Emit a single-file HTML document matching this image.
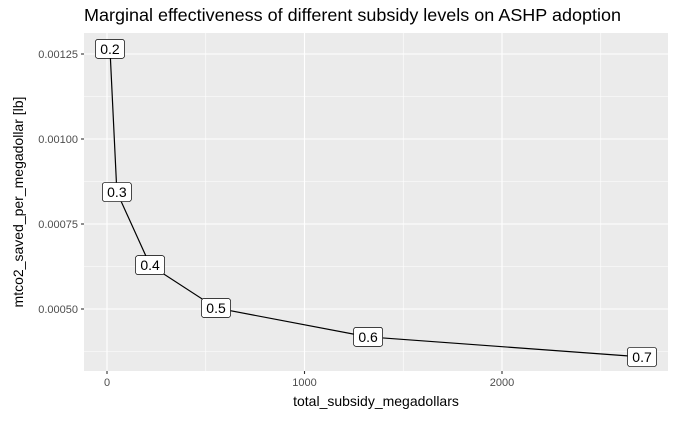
<!DOCTYPE html>
<html><head><meta charset="utf-8"><style>
body{margin:0;background:#fff;font-family:"Liberation Sans",sans-serif}
</style></head><body>
<svg width="676" height="417" xmlns="http://www.w3.org/2000/svg" id="chart" font-family="Liberation Sans, sans-serif">
<text x="84" y="21" font-size="17.5" fill="#000" textLength="537" lengthAdjust="spacingAndGlyphs">Marginal effectiveness of different subsidy levels on ASHP adoption</text>
<rect x="84" y="33" width="584" height="338" fill="#ebebeb"/>
<g id="grid"></g><g id="axes"></g><g id="marks"></g>
<text x="376" y="406" font-size="14" text-anchor="middle">total_subsidy_megadollars</text>
<text transform="translate(23,202) rotate(-90)" font-size="14" text-anchor="middle">mtco2_saved_per_megadollar [lb]</text>
</svg>
<script>
const labels=["0.2","0.3","0.4","0.5","0.6","0.7"];
const subsidy=[15,50,218,552,1322,2709];
const savedPerDollar=[0.001265,0.000844,0.000629,0.000503,0.000418,0.000359];
const xTicks=[0,1000,2000];
const xTickLabels=["0","1000","2000"];
const yTicks=[0.0005,0.00075,0.001,0.00125];
const yTickLabels=["0.00050","0.00075","0.00100","0.00125"];
const NS="http://www.w3.org/2000/svg";
const X=v=>107+v*0.1975;
const Y=v=>309-(v-0.0005)*340000;
function mk(t,a,p){const e=document.createElementNS(NS,t);for(const k in a)e.setAttribute(k,a[k]);p.appendChild(e);return e;}
const grid=document.getElementById('grid'),axes=document.getElementById('axes'),marks=document.getElementById('marks');
[-500,500,1500,2500].forEach(v=>{const x=X(v);if(x>84&&x<668){const l=mk('line',{x1:x,x2:x,y1:33,y2:371,stroke:'#fff','stroke-width':0.6},grid);}});
[0.000375,0.000625,0.000875,0.001125].forEach(v=>{const l=mk('line',{x1:84,x2:668,y1:Y(v),y2:Y(v),stroke:'#fff','stroke-width':0.6},grid);});
xTicks.forEach((v,i)=>{const x=X(v);
const g=mk('line',{x1:x,x2:x,y1:33,y2:371,stroke:'#fff','stroke-width':1.1},grid);
mk('line',{x1:x,x2:x,y1:371,y2:374,stroke:'#333','stroke-width':1.1},axes);
const t=mk('text',{x:x,y:386,'font-size':11,fill:'#4d4d4d','text-anchor':'middle'},axes);t.textContent=xTickLabels[i];
});
yTicks.forEach((v,i)=>{const y=Y(v);
const g=mk('line',{x1:84,x2:668,y1:y,y2:y,stroke:'#fff','stroke-width':1.1},grid);
mk('line',{x1:81,x2:84,y1:y,y2:y,stroke:'#333','stroke-width':1.1},axes);
const t=mk('text',{x:78,y:y+4,'font-size':11,fill:'#4d4d4d','text-anchor':'end'},axes);t.textContent=yTickLabels[i];
});
const line=mk('polyline',{points:subsidy.map((v,i)=>X(v)+','+Y(savedPerDollar[i])).join(' '),fill:'none',stroke:'#000','stroke-width':1.2},marks);

labels.forEach((lb,i)=>{const x=X(subsidy[i]),y=Y(savedPerDollar[i]);
const g=mk('g',{},marks);


mk('rect',{x:x-14.5,y:y-9.5,width:29,height:19,rx:2.5,fill:'#fff',stroke:'#000','stroke-width':0.7},g);
const t=mk('text',{x:x,y:y+5,'font-size':14,'text-anchor':'middle'},g);t.textContent=lb;});
</script>
</body></html>
